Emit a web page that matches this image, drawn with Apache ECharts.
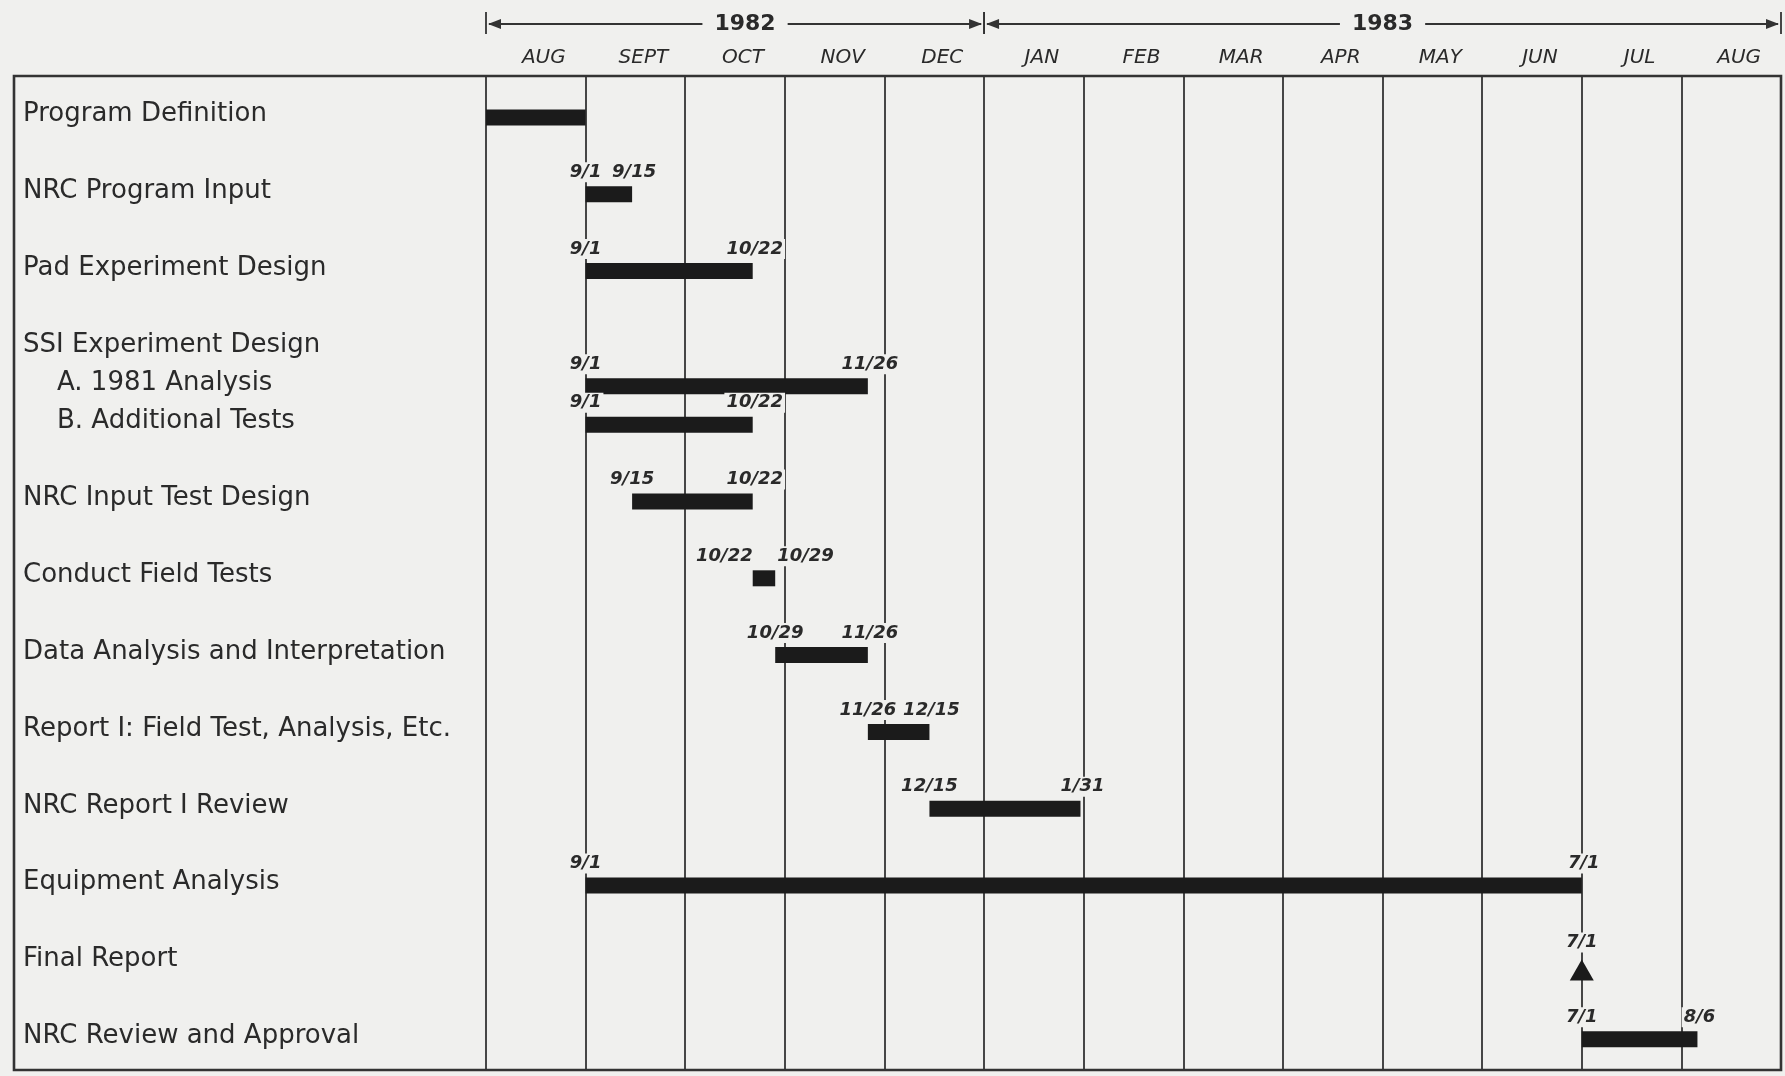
<!DOCTYPE html>
<html><head><meta charset="utf-8">
<script src="https://cdn.jsdelivr.net/npm/echarts@6/dist/echarts.min.js"></script>
<style>html,body{margin:0;padding:0;background:#f0f0ee;} #chart{width:1785px;height:1076px;}</style>
</head><body><div id="chart"></div>
<script>
// ---- data ----
const months = ['AUG','SEPT','OCT','NOV','DEC','JAN','FEB','MAR','APR','MAY','JUN','JUL','AUG'];
const monthYears = [1982,1982,1982,1982,1982,1983,1983,1983,1983,1983,1983,1983,1983];
const years = ['1982','1983'];
const taskNames = ['Program Definition','NRC Program Input','Pad Experiment Design','SSI Experiment Design',
  'A. 1981 Analysis','B. Additional Tests','NRC Input Test Design','Conduct Field Tests',
  'Data Analysis and Interpretation','Report I: Field Test, Analysis, Etc.','NRC Report I Review',
  'Equipment Analysis','Final Report','NRC Review and Approval'];
const taskLevels = [0,0,0,0,1,1,0,0,0,0,0,0,0,0];
const taskStarts = ['1982-08-01','1982-09-01','1982-09-01',null,'1982-09-01','1982-09-01','1982-09-15',
  '1982-10-22','1982-10-29','1982-11-26','1982-12-15','1982-09-01',null,'1983-07-01'];
const taskEnds = ['1982-09-01','1982-09-15','1982-10-22',null,'1982-11-26','1982-10-22','1982-10-22',
  '1982-10-29','1982-11-26','1982-12-15','1983-01-31','1983-07-01',null,'1983-08-06'];
const taskDatesShown = [false,true,true,false,true,true,true,true,true,true,true,true,false,true];
const milestoneTasks = ['Final Report'];
const milestoneDates = ['1983-07-01'];

// ---- helpers ----
const BG = '#f0f0ee', INK = '#2a2a2a', BAR = '#1b1b1b';
function parseD(s){ const [y,m,d] = s.split('-').map(Number); return {y,m,d}; }
function toMonths(s){
  const {y,m,d} = parseD(s);
  const dim = new Date(y, m, 0).getDate();
  return (y-1982)*12 + (m-8) + (d-1)/dim;
}
function dateLabel(s){ const {m,d} = parseD(s); return m + '/' + d; }

const rowPos = []; { let r = -1; taskLevels.forEach(lv => { r += lv ? 0.5 : 1; rowPos.push(r); }); }
const rowOf = name => rowPos[taskNames.indexOf(name)];

const barItems = [];
taskNames.forEach((n,i) => {
  if (taskStarts[i]) barItems.push({i, s: toMonths(taskStarts[i]), e: toMonths(taskEnds[i]), row: rowPos[i]});
});
const yearSpans = years.map(y => {
  const idx = monthYears.map((v,k)=>[v,k]).filter(a => String(a[0]) === y).map(a => a[1]);
  return [idx[0], idx[idx.length-1] + 1];
});

const chart = echarts.init(document.getElementById('chart'), null, {renderer:'canvas'});
const dateFont = 'italic bold 18px "DejaVu Sans"';

chart.setOption({
  backgroundColor: BG,
  animation: false,
  grid: {left: 486, right: 4, top: 76, bottom: 6},
  xAxis: [
    {type:'value', min:0, max:13, interval:1, position:'bottom',
     axisLabel:{show:false}, axisLine:{show:false}, axisTick:{show:false},
     splitLine:{show:true, lineStyle:{color:'#333', width:1.8}}},
    {type:'category', data: months, position:'top', boundaryGap:true,
     axisLine:{show:false}, axisTick:{show:false}, splitLine:{show:false},
     axisLabel:{interval:0, margin:8, color:INK, fontFamily:'DejaVu Sans', fontStyle:'italic',
       fontSize:20, padding:[0,0,0,16]}}
  ],
  yAxis: [{
    type:'value', inverse:true, min:-0.5, max:12.44, interval:0.5,
    axisLine:{show:false}, axisTick:{show:false}, splitLine:{show:false},
    axisLabel:{
      align:'left', margin:463, color:INK, fontFamily:'DejaVu Sans', fontSize:26,
      formatter: v => {
        const k = rowPos.findIndex(r => Math.abs(r - v) < 1e-6);
        if (k < 0) return '';
        return taskLevels[k] ? '{sub|' + taskNames[k] + '}' : taskNames[k];
      },
      rich:{sub:{padding:[0,0,0,34], fontSize:26, fontFamily:'DejaVu Sans', color:INK}}
    }
  }],
  graphic: [{type:'rect', z:100, shape:{x:14, y:76, width:1767, height:994},
    style:{fill:null, stroke:'#333', lineWidth:2.6}}],
  series: [
    { // task bars with start/end dates
      type:'custom', xAxisIndex:0, yAxisIndex:0, clip:false,
      data: barItems.map(b => [b.s, b.e, b.row]),
      encode:{x:[0,1], y:2},
      renderItem: (params, api) => {
        const b = barItems[params.dataIndex];
        const p0 = api.coord([api.value(0), api.value(2)]);
        const p1 = api.coord([api.value(1), api.value(2)]);
        const h = 16, yc = p0[1] + 3;
        const ch = [{type:'rect', shape:{x:p0[0], y:yc-h/2, width:p1[0]-p0[0], height:h}, style:{fill:BAR}}];
        if (taskDatesShown[b.i]) {
          const narrow = (p1[0]-p0[0]) < 40;
          const ly = yc - 22;
          ch.push({type:'text', x: p0[0] + (narrow ? 2 : 0), y: ly, z2:5,
            style:{text: dateLabel(taskStarts[b.i]), font: dateFont, fill: INK,
              align: narrow ? 'right' : 'center', verticalAlign:'middle', backgroundColor: BG, padding:[1,2]}});
          ch.push({type:'text', x: p1[0] + (narrow ? 0 : 2), y: ly, z2:5,
            style:{text: dateLabel(taskEnds[b.i]), font: dateFont, fill: INK,
              align: narrow ? 'left' : 'center', verticalAlign:'middle', backgroundColor: BG, padding:[1,2]}});
        }
        return {type:'group', children: ch};
      }
    },
    { // milestones
      type:'custom', xAxisIndex:0, yAxisIndex:0, clip:false,
      data: milestoneDates.map((d,k) => [toMonths(d), rowOf(milestoneTasks[k])]),
      encode:{x:0, y:1},
      renderItem: (params, api) => {
        const p = api.coord([api.value(0), api.value(1)]);
        const ty = p[1] + 11;
        return {type:'group', children:[
          {type:'polygon', shape:{points:[[p[0], ty-11],[p[0]-12, ty+10],[p[0]+12, ty+10]]}, style:{fill:BAR}},
          {type:'text', x:p[0], y:p[1]-17, style:{text: dateLabel(milestoneDates[params.dataIndex]),
            font: dateFont, fill: INK, align:'center', verticalAlign:'middle', backgroundColor: BG, padding:[1,2]}}
        ]};
      }
    },
    { // year header spans
      type:'custom', xAxisIndex:0, yAxisIndex:0, clip:false,
      data: yearSpans.map(s => [s[0], s[1]]),
      encode:{x:[0,1]},
      renderItem: (params, api) => {
        const x0 = api.coord([api.value(0), -0.5])[0];
        const x1 = api.coord([api.value(1), -0.5])[0];
        const y = api.coord([0, -0.5])[1] - 52;
        const ls = {stroke:'#333', lineWidth:1.8};
        return {type:'group', children:[
          {type:'line', shape:{x1:x0+3, y1:y, x2:x1-3, y2:y}, style:ls},
          {type:'line', shape:{x1:x0, y1:y-12, x2:x0, y2:y+10}, style:ls},
          {type:'line', shape:{x1:x1, y1:y-12, x2:x1, y2:y+10}, style:ls},
          {type:'polygon', shape:{points:[[x0+2,y],[x0+15,y-5],[x0+15,y+5]]}, style:{fill:'#333'}},
          {type:'polygon', shape:{points:[[x1-2,y],[x1-15,y-5],[x1-15,y+5]]}, style:{fill:'#333'}},
          {type:'text', x:(x0+x1)/2 + (params.dataIndex === 0 ? 10 : 0), y:y,
            style:{text: years[params.dataIndex], font:'bold 22px "DejaVu Sans"',
            fill:INK, align:'center', verticalAlign:'middle', backgroundColor:BG, padding:[0,12]}}
        ]};
      }
    }
  ]
});
</script></body></html>
